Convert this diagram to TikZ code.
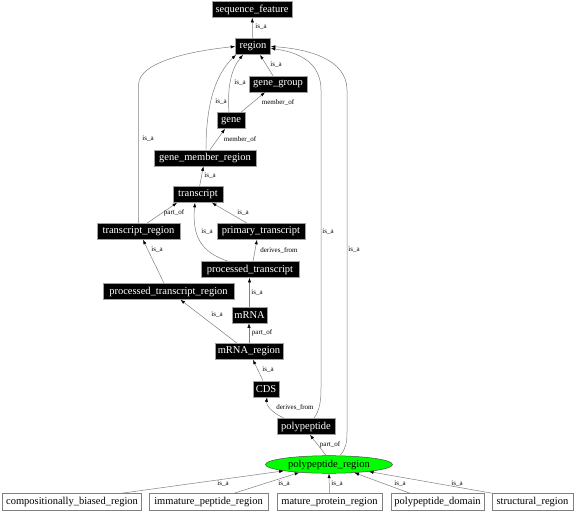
\documentclass[tikz,border=0pt]{standalone}
\usepackage{fontspec}
\setmainfont{Liberation Serif}
\usetikzlibrary{arrows.meta,shapes.geometric}
\definecolor{edgegray}{RGB}{128,128,128}
\definecolor{boxgray}{RGB}{160,160,160}
\definecolor{vgreen}{RGB}{0,255,0}
\begin{document}
\begin{tikzpicture}[x=1pt,y=-1pt,
  blk/.style={draw=boxgray, fill=black, text=white, font=\fontsize{10.5}{12}\selectfont, minimum height=16pt, inner xsep=1pt, inner ysep=0pt, line width=0.6pt},
  wht/.style={draw=edgegray, fill=white, text=black, font=\fontsize{10.5}{12}\selectfont, minimum height=16.5pt, inner xsep=1pt, inner ysep=0pt, line width=0.6pt},
  ell/.style={ellipse, draw=black!70, fill=vgreen, text=black, font=\fontsize{10.5}{12}\selectfont, minimum width=127pt, minimum height=17.6pt, inner sep=0pt, line width=0.5pt},
  edge/.style={draw=edgegray, line width=0.5pt, -{Latex[length=4.5pt,width=3.2pt,color=black]}},
  lbl/.style={font=\fontsize{7}{8}\selectfont, inner sep=0pt, text=black}]
\useasboundingbox (0,0) rectangle (576,513);
\fill[white] (0,0) rectangle (576,513);
% nodes
\node[blk, minimum width=80pt] (sf) at (252,9.5) {sequence\_feature};
\node[blk, minimum width=35pt] (region) at (253,46.5) {region};
\node[blk, minimum width=58pt] (gg) at (278,84) {gene\_group};
\node[blk, minimum width=28pt] (gene) at (231,120.5) {gene};
\node[blk, minimum width=102pt] (gme) at (205,158) {gene\_member\_region};
\node[blk, minimum width=50pt] (transcript) at (198,194.5) {transcript};
\node[blk, minimum width=83pt] (tr) at (138.5,231.5) {transcript\_region};
\node[blk, minimum width=88pt] (pt) at (261,231.5) {primary\_transcript};
\node[blk, minimum width=98pt] (proc) at (250,269.5) {processed\_transcript};
\node[blk, minimum width=131pt] (ptr) at (168.5,291.5) {processed\_transcript\_region};
\node[blk, minimum width=35pt] (mrna) at (249.5,315) {mRNA};
\node[blk, minimum width=68pt] (mr) at (249,351.5) {mRNA\_region};
\node[blk, minimum width=26pt] (cds) at (266,389) {CDS};
\node[blk, minimum width=58pt] (pp) at (306,426.5) {polypeptide};
\node[ell] (pr) at (329,464.5) {polypeptide\_region};
\node[wht, minimum width=139pt] (cbr) at (72,502) {compositionally\_biased\_region};
\node[wht, minimum width=119pt] (ipr) at (208.5,502) {immature\_peptide\_region};
\node[wht, minimum width=105pt] (mpr) at (329.5,502) {mature\_protein\_region};
\node[wht, minimum width=93pt] (pd) at (437.5,502) {polypeptide\_domain};
\node[wht, minimum width=81pt] (sr) at (532.5,502) {structural\_region};
% edges
\draw[edge] (region) -- (sf);
\draw[edge] ([xshift=-5pt]gg.north) -- ([xshift=7pt]region.south);
\draw[edge] ([xshift=-2pt]gene.north) .. controls (227,85) and (232,68) .. ([xshift=-10pt]region.south);
\draw[edge] ([xshift=1pt]gme.north) .. controls (206,105) and (215,75) .. ([xshift=-17pt]region.south);
\draw[edge] ([xshift=10pt]gene.north) -- ([xshift=-13pt]gg.south);
\draw[edge] ([xshift=5pt]gme.north) -- ([xshift=-6pt]gene.south);
\draw[edge] (transcript) -- (gme);
\draw[edge] (tr.north) -- (138.5,85) .. controls (138.5,60) and (200,50) .. (region.west);
\draw[edge] ([xshift=8.5pt]tr.north) -- ([xshift=-21pt]transcript.south);
\draw[edge] ([xshift=-14pt]pt.north) -- ([xshift=14pt]transcript.south);
\draw[edge] ([xshift=-22pt]proc.north) .. controls (200,252) and (192,235) .. ([xshift=-3pt]transcript.south);
\draw[edge] ([xshift=3pt]proc.north) -- ([xshift=-4pt]pt.south);
\draw[edge] ([xshift=-4.5pt]ptr.north) -- ([xshift=4.5pt]tr.south);
\draw[edge] (mrna.north) -- (mrna.north |- proc.south);
\draw[edge] ([xshift=-12pt]mr.north) -- ([xshift=12pt]ptr.south);
\draw[edge] (mr.north) -- (mr.north |- mrna.south);
\draw[edge] ([xshift=-3pt]cds.north) -- ([xshift=4pt]mr.south);
\draw[edge] ([xshift=-22pt]pp.north) .. controls (271,412) and (266,405) .. ([xshift=1pt]cds.south);
\draw[edge] ([xshift=8pt]pp.north) .. controls (320,410) and (321,400) .. (321,388) -- (321,90) .. controls (321,62) and (298,52) .. ([yshift=-2pt]region.east);
\draw[edge] ([xshift=11pt]pr.north) .. controls (346,449) and (347,442) .. (347,432) -- (347,90) .. controls (347,60) and (310,49) .. (region.east);
\draw[edge] ([xshift=-3pt]pr.north) -- ([xshift=4pt]pp.south);
\draw[edge] ([xshift=48pt]cbr.north) -- (pr.188);
\draw[edge] ([xshift=25pt]ipr.north) -- (pr.195);
\draw[edge] (mpr.north) -- (pr.south);
\draw[edge] ([xshift=-27pt]pd.north) -- (pr.342.5);
\draw[edge] ([xshift=-39pt]sr.north) -- (pr.350);
% labels
\node[lbl] (l1) at (261,27) {is\_a};
\node[lbl] (l2) at (276,65) {is\_a};
\node[lbl] (l3) at (240,83) {is\_a};
\node[lbl] (l4) at (278,102) {member\_of};
\node[lbl] (l5) at (221,102) {is\_a};
\node[lbl] (l6) at (240,139) {member\_of};
\node[lbl] (l7) at (148,139) {is\_a};
\node[lbl] (l8) at (210,176) {is\_a};
\node[lbl] (l9) at (174,213) {part\_of};
\node[lbl] (l10) at (243,213) {is\_a};
\node[lbl] (l11) at (207,232) {is\_a};
\node[lbl] (l12) at (328,232) {is\_a};
\node[lbl] (l13) at (354,250) {is\_a};
\node[lbl] (l14) at (279,250) {derives\_from};
\node[lbl] (l15) at (157,250) {is\_a};
\node[lbl] (l16) at (257,293) {is\_a};
\node[lbl] (l17) at (217,315) {is\_a};
\node[lbl] (l18) at (262,333) {part\_of};
\node[lbl] (l19) at (268,370) {is\_a};
\node[lbl] (l20) at (295,407) {derives\_from};
\node[lbl] (l21) at (330,445) {part\_of};
\node[lbl] (l22) at (223,484) {is\_a};
\node[lbl] (l23) at (284,484) {is\_a};
\node[lbl] (l24) at (337,484) {is\_a};
\node[lbl] (l25) at (400,484) {is\_a};
\node[lbl] (l26) at (457,484) {is\_a};
\end{tikzpicture}
\end{document}
